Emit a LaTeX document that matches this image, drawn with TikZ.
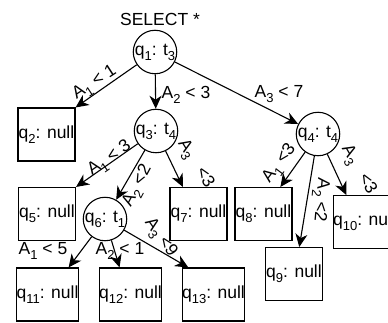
\documentclass[tikz,border=0pt]{standalone}
\usepackage{fontspec}
\setmainfont{Liberation Sans}
\usetikzlibrary{arrows.meta}
\newcommand\mysub[1]{\raisebox{-5pt}{\fontsize{13}{13}\selectfont #1}}
\tikzset{
  box/.style={draw, line width=1.1pt, minimum width=57pt, minimum height=53pt, inner sep=0pt, font=\fontsize{17.5}{17.5}\selectfont},
  circ/.style={draw, circle, line width=1.1pt, minimum size=43pt, inner sep=0pt, font=\fontsize{17.5}{17.5}\selectfont},
  lbl/.style={inner sep=0pt, font=\fontsize{17.5}{17.5}\selectfont},
  arr/.style={line width=1.1pt, -{Stealth[length=13pt,width=12pt,inset=4pt]}}
}
\begin{document}
\begin{tikzpicture}[x=1pt,y=-1pt]
\clip (0,0) rectangle (388,322);
\fill[white] (0,0) rectangle (388,322);
\node[lbl] (title) at (160,19) {SELECT *};
\node[circ] (q1) at (155,52) {q\mysub{1}: t\mysub{3}};
\node[box] (q2) at (46.5,134.5) {q\mysub{2}: null};
\node[circ] (q3) at (156,131) {q\mysub{3}: t\mysub{4}};
\node[circ] (q4) at (318,134) {q\mysub{4}: t\mysub{4}};
\node[box] (q5) at (47,214) {q\mysub{5}: null};
\node[circ] (q6) at (105,219) {q\mysub{6}: t\mysub{1}};
\node[box] (q7) at (198.5,214) {q\mysub{7}: null};
\node[box] (q8) at (263.5,214) {q\mysub{8}: null};
\node[box] (q9) at (294,274) {q\mysub{9}: null};
\node[box] (q10) at (364.5,222) {q\mysub{10}: null};
\node[box] (q11) at (47.5,294.5) {q\mysub{11}: null};
\node[box] (q12) at (130.5,294.5) {q\mysub{12}: null};
\node[box] (q13) at (213.5,294.5) {q\mysub{13}: null};

\draw[arr] (q1) -- (q2.north east);
\draw[arr] (q1) -- (q3);
\draw[arr] (q1) -- (q4);
\draw[arr] (q3) -- (q5.north east);
\draw[arr] (q3) -- (q6);
\draw[arr] (q3) -- (q7.120);
\draw[arr] (q4) -- (q8.58);
\draw[arr] (q4) -- (q9.79);
\draw[arr] (q4) -- (q10.124);
\draw[arr] (q6) -- (q11.52);
\draw[arr] (q6) -- (q12.112);
\draw[arr] (q6) -- (q13.133);

\node[lbl, rotate=33] (l12) at (95,83) {A\mysub{1} {<} 1};
\node[lbl] (l13) at (186,95) {A\mysub{2} {<} 3};
\node[lbl] (l14) at (279,94) {A\mysub{3} {<} 7};
\node[lbl, rotate=35] (l35) at (110,159) {A\mysub{1} {<} 3};
\node[lbl, rotate=62] (l36) at (138,186) {A\mysub{2} {<}2};
\node[lbl, rotate=-58] (l37) at (195,164) {A\mysub{3} \ \ {<}3};
\node[lbl, rotate=53] (l48) at (280,164) {A\mysub{1} {<}3};
\node[lbl, rotate=-95] (l49) at (320,200) {A\mysub{2} {<}2};
\node[lbl, rotate=-60] (l410) at (358,170) {A\mysub{3} \ \ {<}3};
\node[lbl] (l611) at (43,251) {A\mysub{1} {<} 5};
\node[lbl] (l612) at (120,251) {A\mysub{2} {<} 1};
\node[lbl, rotate=-55] (l613) at (160,238) {A\mysub{3} {<}9};
\end{tikzpicture}
\end{document}
